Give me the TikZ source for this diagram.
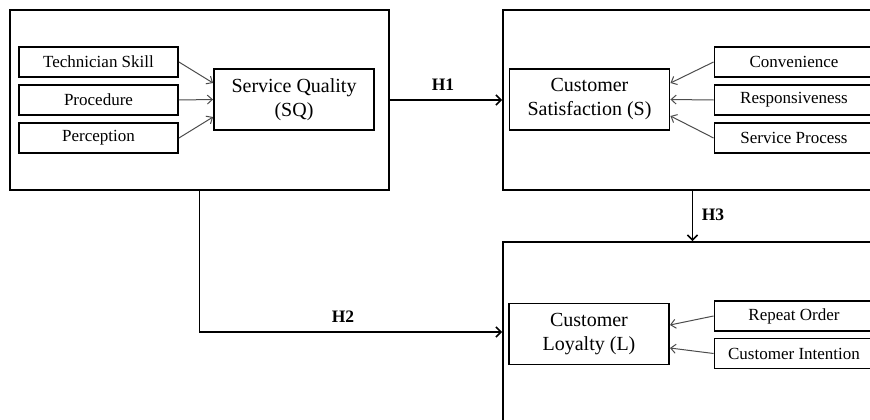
\documentclass[tikz,border=0pt]{standalone}
\usepackage{fontspec}
\setmainfont{Liberation Serif}
\usetikzlibrary{arrows.meta}
\begin{document}
\begin{tikzpicture}
[x=1pt,y=-1pt,
 frame/.style={rectangle,draw,line width=1.9pt,inner sep=0pt,minimum width=379pt,minimum height=180pt},
 item/.style={rectangle,draw,line width=1.9pt,inner sep=0pt,minimum width=159pt,minimum height=30pt,font=\fontsize{17}{20}\selectfont},
 factor/.style={rectangle,draw,line width=1.9pt,inner sep=0pt,minimum width=160pt,minimum height=61pt,align=center,font=\fontsize{20}{24}\selectfont},
 hyp/.style={font=\fontsize{17.5}{20}\selectfont\bfseries},
 link/.style={-{Straight Barb[length=5pt,width=9pt]},line width=1pt,black!70},
 path/.style={-{Straight Barb[length=5pt,width=10pt]},line width=1.6pt}]
   \useasboundingbox (0,0) rectangle (870,420);
   \clip (0,0) rectangle (870,420);
   % outer frames
   \node[frame] (sqframe) at (199.5,100) {};
   \node[frame] (csframe) at (692.5,100) {};
   \node[frame] (clframe) at (692.5,332) {};
   % constructs
   \node[factor] (sq) at (294,99.5) {Service Quality\\(SQ)};
   \node[factor] (cs) at (589.5,99.5) {Customer\\Satisfaction (S)};
   \node[factor] (cl) at (589,334) {Customer\\Loyalty (L)};
   % indicators
   \node[item] (tech) at (98.5,62) {Technician Skill};
   \node[item] (proc) at (98.5,100) {Procedure};
   \node[item] (perc) at (98.5,138) {Perception};
   \node[item] (conv) at (794,62) {Convenience};
   \node[item] (resp) at (794,100) {Responsiveness};
   \node[item] (serv) at (794,138) {Service Process};
   \node[item] (rep) at (794,316) {Repeat Order};
   \node[item] (cint) at (794,353.5) {Customer Intention};
   \path[link]
    (tech.east) edge ([yshift=16.5pt]sq.west)
    (proc.east) edge (sq.west)
    (perc.east) edge ([yshift=-17.5pt]sq.west)
    (conv.west) edge ([yshift=16.5pt]cs.east)
    (resp.west) edge (cs.east)
    (serv.west) edge ([yshift=-16.5pt]cs.east)
    (rep.west) edge ([yshift=9pt]cl.east)
    (cint.west) edge ([yshift=-14pt]cl.east);
   % hypotheses
   \path[path]
    (sqframe.east) edge (csframe.west)
    (csframe.south) edge (clframe.north);
   \draw[path] (sqframe.south) |- (clframe.west);
   \node[hyp] (h1) at (443,85) {H1};
   \node[hyp] (h2) at (343,317) {H2};
   \node[hyp] (h3) at (713,215) {H3};
\end{tikzpicture}
\end{document}
